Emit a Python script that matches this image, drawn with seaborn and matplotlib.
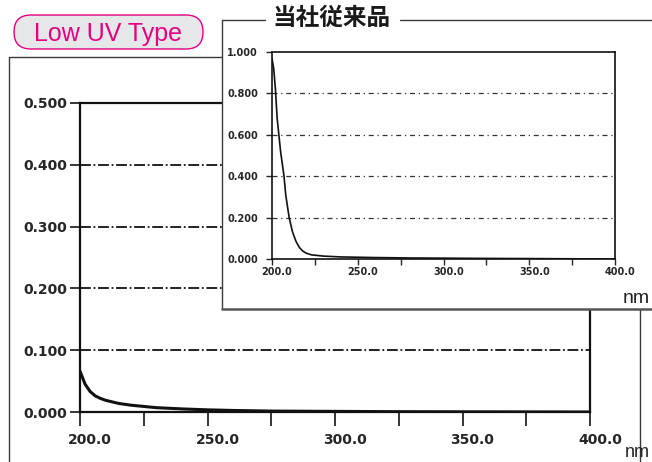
import pandas as pd
import matplotlib
matplotlib.use("Agg")
import matplotlib.pyplot as plt
from matplotlib.patches import Rectangle, FancyBboxPatch
from matplotlib.lines import Line2D
from matplotlib.transforms import ScaledTranslation
import seaborn as sns

# Low UV type absorbance (main chart)
main_nm = [200, 202, 204, 206, 208, 210, 215, 220, 225, 230, 240, 250, 260, 275, 300, 325, 350, 400]
main_abs = [0.066, 0.045, 0.033, 0.026, 0.022, 0.019, 0.014, 0.011, 0.009, 0.007,
            0.005, 0.0035, 0.0025, 0.0015, 0.001, 0.0005, 0.0003, 0.0]

# conventional product (inset)
conv_nm = [200, 201, 202, 203, 205, 207, 208, 210, 212, 214, 216, 218, 220, 223,
           230, 240, 260, 280, 300, 320, 350, 400]
conv_abs = [0.97, 0.92, 0.82, 0.68, 0.52, 0.40, 0.31, 0.20, 0.13, 0.085, 0.055, 0.038,
            0.028, 0.020, 0.014, 0.010, 0.007, 0.005, 0.004, 0.003, 0.002, 0.0]

badge_text = "Low UV Type"
inset_title = "当社従来品"
unit_label = "nm"

main_yticks = [0.0, 0.1, 0.2, 0.3, 0.4, 0.5]
inset_yticks = [0.0, 0.2, 0.4, 0.6, 0.8, 1.0]
xticks_major = [200, 250, 300, 350, 400]
xticks_minor = [225, 275, 325, 375]

df_main = pd.DataFrame({"nm": main_nm, "abs": main_abs})
df_conv = pd.DataFrame({"nm": conv_nm, "abs": conv_abs})

sns.set_style("ticks")
plt.rcParams['font.family'] = ['DejaVu Sans', 'Noto Sans CJK JP']

fig = plt.figure(figsize=(6.52, 4.62), dpi=100)
W, H = 652, 462

def fx(px):
    return px / W

def fy(py):
    return (H - py) / H

grid_main = (0, (6, 1.5, 1, 1.5))
grid_inset = (0, (4, 3, 1, 3))

# ---- main axes
ax = fig.add_axes([fx(80), fy(412), fx(590) - fx(80), fy(103) - fy(412)])
sns.lineplot(data=df_main, x="nm", y="abs", ax=ax, color="#111111", linewidth=2.2)
ax.set_xlim(200, 400)
ax.set_ylim(0, 0.5)
ax.set_yticks(main_yticks)
ax.set_yticklabels([f"{v:.3f}" for v in main_yticks])
ax.set_xticks(xticks_major)
ax.set_xticks(xticks_minor, minor=True)
ax.set_xticklabels([f"{v:.1f}" for v in xticks_major])
ax.set_xlabel("")
ax.set_ylabel("")
for v in main_yticks[1:-1]:
    ax.axhline(v, color="#111111", lw=1.3, linestyle=grid_main, zorder=1)
for s in ax.spines.values():
    s.set_linewidth(1.6)
    s.set_color("#111111")
ax.tick_params(axis="y", direction="out", length=7, width=1.3, pad=2, labelsize=10)
ax.tick_params(axis="x", which="both", direction="out", length=10, width=1.3, pad=5, labelsize=10)
for lbl in ax.get_yticklabels() + ax.get_xticklabels():
    lbl.set_fontweight("bold")
for lbl in ax.get_xticklabels():
    lbl.set_transform(lbl.get_transform() + ScaledTranslation(10 / 100, 0, fig.dpi_scale_trans))

# ---- frames (figure level)
frame_col = "#3a3a3a"
fig.add_artist(Line2D([fx(9), fx(9)], [0, fy(57)], color=frame_col, lw=1.0, transform=fig.transFigure))
fig.add_artist(Line2D([fx(9), fx(222)], [fy(57), fy(57)], color=frame_col, lw=1.0, transform=fig.transFigure))
fig.add_artist(Line2D([fx(640), fx(640)], [0, fy(309)], color=frame_col, lw=1.0, transform=fig.transFigure))

fig.add_artist(Rectangle((fx(222), fy(309)), 1 - fx(222), fy(20) - fy(309), facecolor="white",
                         edgecolor="none", transform=fig.transFigure, zorder=2))
fig.add_artist(Line2D([fx(222), fx(222)], [fy(309), fy(20)], color=frame_col, lw=1.0,
                      transform=fig.transFigure, zorder=3))
fig.add_artist(Line2D([fx(222), fx(265)], [fy(20), fy(20)], color=frame_col, lw=1.0,
                      transform=fig.transFigure, zorder=3))
fig.add_artist(Line2D([fx(400), 1], [fy(20), fy(20)], color=frame_col, lw=1.0,
                      transform=fig.transFigure, zorder=3))
fig.add_artist(Line2D([fx(222), 1], [fy(309), fy(309)], color="#555555", lw=1.8,
                      transform=fig.transFigure, zorder=3))

# ---- inset axes
axi = fig.add_axes([fx(272), fy(259), fx(615) - fx(272), fy(52) - fy(259)])
axi.set_zorder(4)
sns.lineplot(data=df_conv, x="nm", y="abs", ax=axi, color="#111111", linewidth=1.2)
axi.set_xlim(200, 400)
axi.set_ylim(0, 1.0)
axi.set_yticks(inset_yticks)
axi.set_yticklabels([f"{v:.3f}" for v in inset_yticks])
axi.set_xticks(xticks_major)
axi.set_xticks(xticks_minor, minor=True)
axi.set_xticklabels([f"{v:.1f}" for v in xticks_major])
axi.set_xlabel("")
axi.set_ylabel("")
for v in inset_yticks[1:-1]:
    axi.axhline(v, color="#333333", lw=0.9, linestyle=grid_inset, zorder=1)
for s in axi.spines.values():
    s.set_linewidth(1.2)
    s.set_color("#111111")
axi.tick_params(axis="y", direction="out", length=4, width=1.0, pad=6, labelsize=7)
axi.tick_params(axis="x", which="both", direction="out", length=4, width=1.0, pad=2, labelsize=7)
for lbl in axi.get_yticklabels() + axi.get_xticklabels():
    lbl.set_fontweight("bold")
for lbl in axi.get_xticklabels():
    lbl.set_transform(lbl.get_transform() + ScaledTranslation(5 / 100, 0, fig.dpi_scale_trans))

fig.text(fx(332), fy(18), inset_title, ha="center", va="center", fontsize=17, fontweight="bold",
         family=["Noto Sans CJK JP", "DejaVu Sans"], color="#1a1a1a", zorder=5)

# ---- unit labels
fig.text(fx(636), fy(303), unit_label, ha="center", va="baseline", fontsize=14,
         family=["Liberation Sans"], color="#222222", zorder=5)
fig.text(fx(637), fy(461), unit_label, ha="center", va="bottom", fontsize=13,
         family=["Liberation Sans"], color="#222222", zorder=5)

# ---- badge
badge = FancyBboxPatch((0.14, 4.13), 1.89, 0.34, boxstyle="round,pad=0,rounding_size=0.17",
                       facecolor="#e6e7e9", edgecolor="#e4007f", lw=1.0,
                       transform=fig.dpi_scale_trans, zorder=5)
fig.add_artist(badge)
fig.text(1.08 / 6.52, 4.21 / 4.62, badge_text, ha="center", va="baseline", fontsize=18,
         family=["Liberation Sans"], color="#e4007f", zorder=6)

fig.savefig("out.png", dpi=100)
